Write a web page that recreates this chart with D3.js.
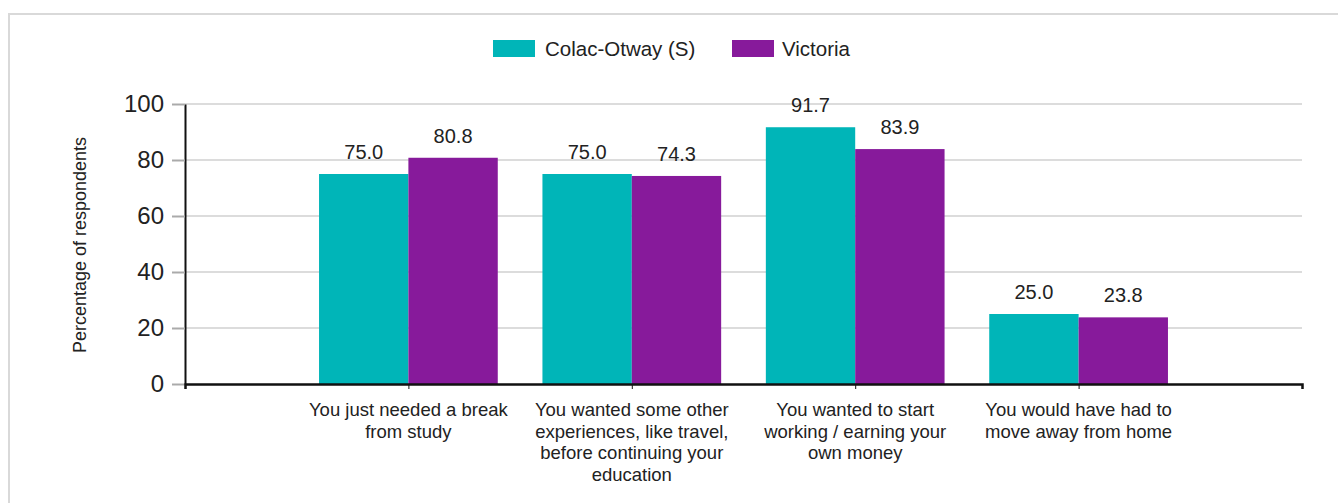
<!DOCTYPE html>
<html>
<head>
<meta charset="utf-8">
<script src="https://cdn.jsdelivr.net/npm/d3@7"></script>
<style>
  html, body { margin: 0; padding: 0; background: #fff; }
  svg { display: block; font-family: "Liberation Sans", Arial, sans-serif; }
</style>
</head>
<body>
<svg id="chart" width="1338" height="503"></svg>
<script>
const categories = [
  "You just needed a break from study",
  "You wanted some other experiences, like travel, before continuing your education",
  "You wanted to start working / earning your own money",
  "You would have had to move away from home"
];
const categoryLines = [
  ["You just needed a break", "from study"],
  ["You wanted some other", "experiences, like travel,", "before continuing your", "education"],
  ["You wanted to start", "working / earning your", "own money"],
  ["You would have had to", "move away from home"]
];
const seriesNames = ["Colac-Otway (S)", "Victoria"];
const colacValues = [75.0, 75.0, 91.7, 25.0];
const victoriaValues = [80.8, 74.3, 83.9, 23.8];
const yTicks = [0, 20, 40, 60, 80, 100];
const colors = ["#00b5b8", "#871a9b"];

const seriesValues = [colacValues, victoriaValues];
const svg = d3.select("#chart");

// frame
svg.append("rect").attr("x", 9).attr("y", 14).attr("width", 1345).attr("height", 500)
  .attr("fill", "none").attr("stroke", "#d9d9d9").attr("stroke-width", 2);

const pLeft = 185, pRight = 1302, pTop = 104, pBottom = 384;
const x = d3.scalePoint().domain(categories).range([pLeft, pRight]).padding(1);
const xs = d3.scaleBand().domain(seriesNames).range([-0.4 * x.step(), 0.4 * x.step()]).padding(0);
const y = d3.scaleLinear().domain([0, 100]).range([pBottom, pTop]);

// gridlines
svg.append("g").selectAll("line").data(yTicks.filter(d => d > 0)).join("line")
  .attr("x1", pLeft).attr("x2", pRight)
  .attr("y1", d => y(d)).attr("y2", d => y(d))
  .attr("stroke", "#dcdcdc").attr("stroke-width", 2);

// bars
const groups = svg.append("g").selectAll("g").data(categories).join("g")
  .attr("transform", d => `translate(${x(d)},0)`);
seriesNames.forEach((s, si) => {
  groups.append("rect")
    .attr("x", xs(s))
    .attr("width", xs.bandwidth())
    .attr("y", (d, i) => y(seriesValues[si][i]))
    .attr("height", (d, i) => y(0) - y(seriesValues[si][i]))
    .attr("fill", colors[si]);
  groups.append("text")
    .attr("x", xs(s) + xs.bandwidth() / 2)
    .attr("y", (d, i) => y(seriesValues[si][i]) - 15)
    .attr("text-anchor", "middle")
    .attr("font-size", 20)
    .attr("fill", "#222")
    .text((d, i) => seriesValues[si][i].toFixed(1));
});

// y axis
const yAxis = svg.append("g").attr("transform", `translate(${pLeft},0)`)
  .call(d3.axisLeft(y).tickValues(yTicks).tickSize(13).tickPadding(8).tickSizeOuter(0));
yAxis.select(".domain").attr("stroke", "#111").attr("stroke-width", 2);
yAxis.selectAll(".tick line").attr("stroke", "#aaa").attr("stroke-width", 2);
yAxis.selectAll(".tick text").attr("font-size", 24).attr("fill", "#222")
  .attr("font-family", "Liberation Sans, Arial, sans-serif");

// x axis
const xAxis = svg.append("g").attr("transform", `translate(0,${pBottom})`)
  .call(d3.axisBottom(x).tickSize(5).tickSizeOuter(5).tickFormat(""));
xAxis.select(".domain").attr("stroke", "#111").attr("stroke-width", 2.5);
xAxis.selectAll(".tick line").attr("stroke", "#111").attr("stroke-width", 1);

// category labels
const lab = svg.append("g").selectAll("text").data(categories).join("text")
  .attr("x", d => x(d)).attr("y", 416)
  .attr("text-anchor", "middle").attr("font-size", 18.5).attr("fill", "#222");
lab.each(function(d, i) {
  const t = d3.select(this);
  categoryLines[i].forEach((line, li) => {
    t.append("tspan").attr("x", x(d)).attr("dy", li === 0 ? 0 : 21.5).text(line);
  });
});

// y label
svg.append("text")
  .attr("transform", `translate(86,245) rotate(-90)`)
  .attr("text-anchor", "middle").attr("font-size", 18).attr("fill", "#222")
  .text("Percentage of respondents");

// legend
const legendItems = [{ name: seriesNames[0], x: 493, tx: 545 }, { name: seriesNames[1], x: 732, tx: 782 }];
const lg = svg.append("g").selectAll("g").data(legendItems).join("g");
lg.append("rect").attr("x", d => d.x).attr("y", 40).attr("width", 42).attr("height", 17)
  .attr("fill", (d, i) => colors[i]);
lg.append("text").attr("x", d => d.tx).attr("y", 56).attr("font-size", 20.5).attr("fill", "#222")
  .text(d => d.name);
</script>
</body>
</html>
